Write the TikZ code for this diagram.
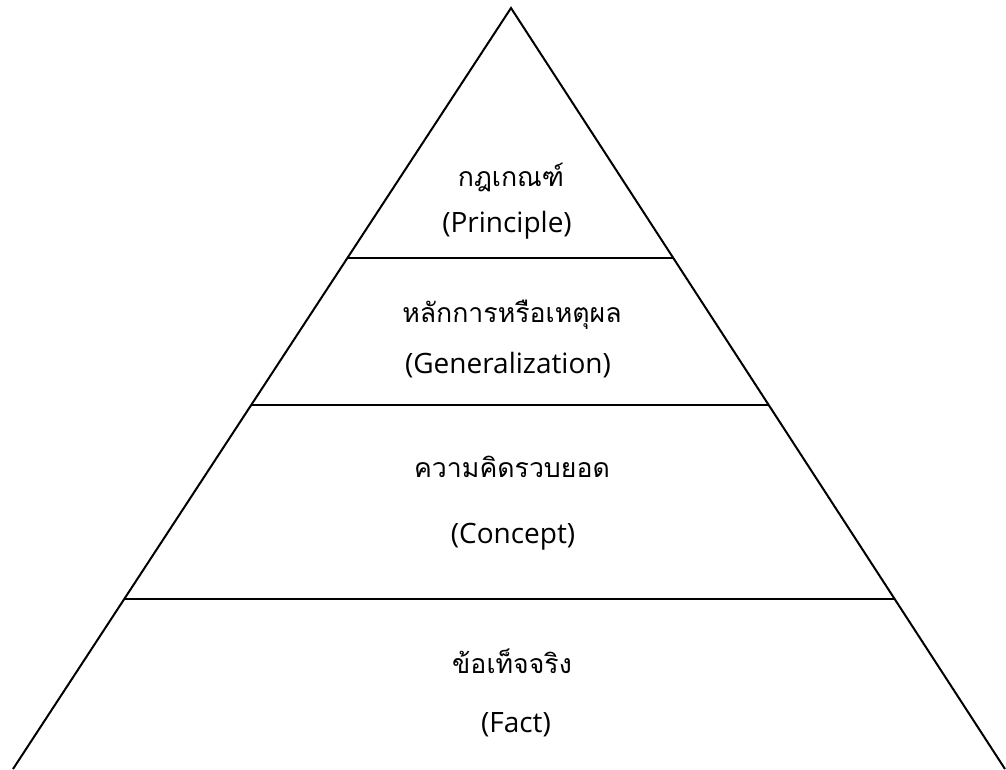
\documentclass[tikz,border=0pt]{standalone}
\usepackage{fontspec}
\setmainfont{Open Sans}
\newfontfamily\thaifont[Script=Thai]{Loma}
\usetikzlibrary{positioning,calc}

\begin{document}
\begin{tikzpicture}[x=0.75pt, y=-0.75pt, line width=1.5pt,
  thai/.style={font=\thaifont\fontsize{20}{24}\selectfont, inner sep=0pt},
  eng/.style={font=\fontsize{21}{25}\selectfont, inner sep=0pt}]
\useasboundingbox (0,0) rectangle (1006,769);
\clip (0,0) rectangle (1006,769);

\def\ta{0.3285}
\def\tb{0.5217}
\def\tc{0.7766}

\coordinate (top) at (511,8);
\coordinate (lfoot) at (13,769);
\coordinate (rfoot) at (1005,769);

\coordinate (la) at ($(top)!\ta!(lfoot)$);
\coordinate (ra) at ($(top)!\ta!(rfoot)$);
\coordinate (lb) at ($(top)!\tb!(lfoot)$);
\coordinate (rb) at ($(top)!\tb!(rfoot)$);
\coordinate (lc) at ($(top)!\tc!(lfoot)$);
\coordinate (rc) at ($(top)!\tc!(rfoot)$);

\node[thai] (princ) at (511,177) {กฎเกณฑ์};
\node[eng] (princen) at (507,225) {(Principle)};
\node[thai] (gen) at (512,315) {หลักการหรือเหตุผล};
\node[eng] (genen) at (508,365) {(Generalization)};
\node[thai] (conc) at (512,467) {ความคิดรวบยอด};
\node[eng] (concen) at (513,537) {(Concept)};
\node[thai] (fact) at (512,661) {ข้อเท็จจริง};
\node[eng] (facten) at (516,725) {(Fact)};

\draw (lfoot) -- (top) -- (rfoot);
\draw (la) -- (ra);
\draw (lb) -- (rb);
\draw (lc) -- (rc);

\end{tikzpicture}
\end{document}
